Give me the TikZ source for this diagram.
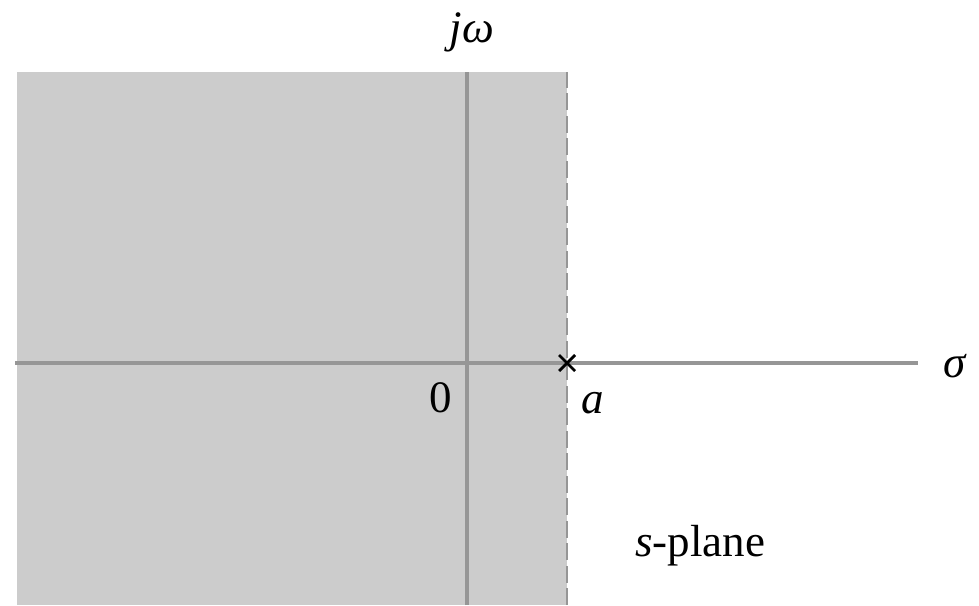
\documentclass[tikz,border=0pt]{standalone}
\usepackage{fontspec}
\setmainfont{Liberation Serif}
\definecolor{regiongray}{RGB}{204, 204, 204}
\definecolor{axisgray}{RGB}{150, 150, 150}
\usetikzlibrary{positioning, calc}

\begin{document}
\begin{tikzpicture}[x=0.025cm, y=-0.025cm, font=\fontsize{32}{38}\selectfont,
    axisline/.style={line width=2.6pt, axisgray},
    lbl/.style={inner sep=0pt}]
      \useasboundingbox (0,0) rectangle (979,605);
      % region of convergence
      \fill[regiongray] (17,72) rectangle (567,605);
      \coordinate (yb) at (467,605);
      \coordinate (yt) at (467,72);
      \coordinate (xl) at (15,363);
      \coordinate (xr) at (918,363);
      \coordinate (db) at (567,605);
      \coordinate (dt) at (567,72);
      \draw[axisline] (yb) -- (yt);
      \draw[axisline] (xl) -- (xr);
      \draw[line width=1.4pt, axisgray, dash pattern=on 12pt off 4pt] (db) -- (dt);
      % pole
      \node (pole) [inner sep=0pt, minimum size=0pt] at (567,363) {};
      \draw[line width=2pt] ($(pole)+(-8,-8)$) -- ($(pole)+(8,8)$);
      \draw[line width=2pt] ($(pole)+(-8,8)$) -- ($(pole)+(8,-8)$);
      % labels
      \node (jw) [lbl] at (472,32) {\itshape jω};
      \node (sig) [lbl] at (955,366) {\itshape σ};
      \node (zero) [lbl] at (441,398) {0};
      \node (a) [lbl] at (593,403) {\itshape a};
      \node (splane) [lbl] at (700,546) {{\itshape s}-plane};
\end{tikzpicture}
\end{document}
